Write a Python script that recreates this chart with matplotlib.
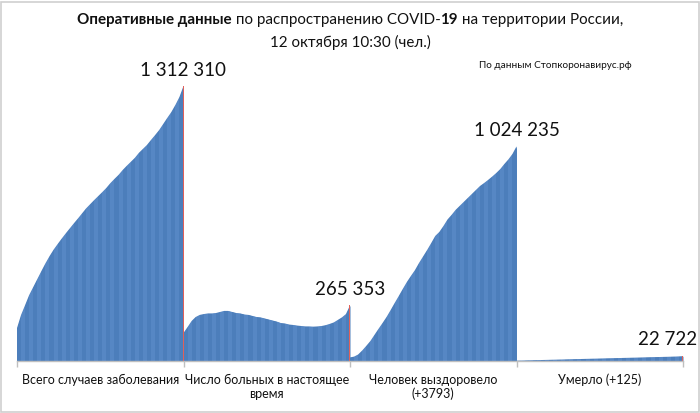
import matplotlib
matplotlib.use('Agg')
import matplotlib.pyplot as plt
import numpy as np
from matplotlib.patches import Rectangle

plt.rcParams['font.family'] = ['Lato', 'DejaVu Sans']

# ----------------------------- data (thousands of people) -----------------------------
categories = ['Всего случаев заболевания', 'Число больных в настоящее\nвремя',
              'Человек выздоровело\n(+3793)', 'Умерло (+125)']

total_cases = [157, 220, 267, 315, 353, 391, 429, 466, 500, 531, 558, 584, 609, 633,
               657, 680, 704, 728, 748, 768, 787, 806, 826, 849, 869, 888, 911, 931,
               950, 969, 993, 1012, 1031, 1055, 1078, 1102, 1131, 1160, 1188, 1222,
               1260, 1312.310]
active = [134, 162, 191, 210, 220, 224, 227, 227, 229, 234, 239, 239, 234, 229, 227,
          222, 220, 215, 210, 208, 203, 198, 193, 188, 181, 179, 174, 172, 169, 167,
          165, 165, 164, 165, 167, 171, 177, 184, 196, 208, 224, 265.353]
recovered = [17, 21, 31, 50, 72, 95, 124, 153, 181, 210, 243, 277, 310, 344, 377, 406,
             434, 468, 499, 530, 563, 597, 616, 644, 675, 697, 721, 740, 759, 778, 797,
             816, 835, 849, 864, 880, 897, 916, 940, 962, 988, 1024.235]
deaths = [1.6, 2.1, 2.6, 3.1, 3.6, 4.1, 4.6, 5.1, 5.6, 6.1, 6.6, 7.1, 7.6, 8.1, 8.6,
          9.1, 9.6, 10.1, 10.6, 11.1, 11.6, 12.1, 12.6, 13.0, 13.5, 14.0, 14.5, 15.0,
          15.5, 16.0, 16.5, 17.0, 17.5, 18.0, 18.5, 19.0, 19.5, 20.0, 20.6, 21.2, 21.9,
          22.722]
value_labels = ['1 312 310', '265 353', '1 024 235', '22 722']

series = [total_cases, active, recovered, deaths]

W, H = 700, 413
fig = plt.figure(figsize=(W / 100, H / 100), dpi=100)
ax = fig.add_axes([17 / W, (H - 361) / H, 666 / W, 275 / H])

base_blue = '#4f81bd'
stripe_cols = ['#4c7ebb', '#5687c4']
red = '#e0605a'

for c, vals in enumerate(series):
    n = len(vals)
    x = c + np.arange(n) / (n - 1)
    area = ax.fill_between(x, 0, vals, color=base_blue, linewidth=0)
    clip = area.get_paths()[0]
    # light vertical striping like the excel day-bars
    xs = c + (np.arange(n - 1) + 0.5) / (n - 1)
    cols = [stripe_cols[i % 2] for i in range(n - 1)]
    bars = ax.bar(xs, [max(vals)] * (n - 1), width=1 / (n - 1), color=cols, linewidth=0)
    for b in bars:
        b.set_clip_path(clip, ax.transData)
    # latest day in red at the right edge of the group
    ax.bar(c + 1 - 0.003, vals[-1], width=0.006, color=red, linewidth=0)
    if c == 3:
        ax.annotate(value_labels[c], (c + 1, vals[-1]), xytext=(10, 6),
                    textcoords='offset points', ha='right', va='bottom',
                    fontsize=13.5, color='#111111', annotation_clip=False)
    else:
        ax.annotate(value_labels[c], (c + 1, vals[-1]), xytext=(0, 5),
                    textcoords='offset points', ha='center', va='bottom',
                    fontsize=13.5, color='#111111', annotation_clip=False)

ax.set_xlim(0, 4)
ax.set_ylim(0, 1312.31)
ax.set_yticks([])
for s in ['top', 'right', 'left']:
    ax.spines[s].set_visible(False)
ax.spines['bottom'].set_color('#bfbfbf')
ax.spines['bottom'].set_linewidth(1)
ax.set_xticks([0, 1, 2, 3, 4])
ax.set_xticklabels([])
ax.tick_params(axis='x', which='major', length=4, color='#bfbfbf', width=1)
ax.set_xticks([0.5, 1.5, 2.5, 3.5], categories, minor=True)
ax.tick_params(axis='x', which='minor', length=0, pad=9, labelsize=9,
               labelcolor='#111111')
ax.patch.set_visible(False)

# title with bold pieces
renderer = fig.canvas.get_renderer()


def text_width(s, weight, size):
    a = fig.text(0, 0, '|' + s + '|', fontsize=size, fontweight=weight)
    b = fig.text(0, 0, '||', fontsize=size, fontweight=weight)
    w = a.get_window_extent(renderer).width - b.get_window_extent(renderer).width
    a.remove()
    b.remove()
    return w


def rich_line(y, parts, size):
    widths = [text_width(s, wt, size) for s, wt in parts]
    x = (W - sum(widths)) / 2
    for (s, wt), w in zip(parts, widths):
        fig.text(x / W, 1 - y / H, s, fontsize=size, fontweight=wt,
                 va='center', ha='left', color='#111111')
        x += w


rich_line(20, [('Оперативные данные', 'bold'), (' по распространению COVID-', 'normal'),
               ('19', 'bold'), (' на территории России,', 'normal')], 10.9)
rich_line(42, [('12 октября 10:30 (чел.)', 'normal')], 10.9)

fig.text(555 / W, 1 - 66 / H, 'По данным Стопкоронавирус.рф', fontsize=7.2,
         ha='center', va='center', color='#111111')

fig.patches.append(Rectangle((1 / W, 1 / H), 1 - 2.5 / W, 1 - 2.5 / H,
                             transform=fig.transFigure, fill=False,
                             edgecolor='#cfcfcf', linewidth=1.2))

fig.savefig('out.png', dpi=100)
